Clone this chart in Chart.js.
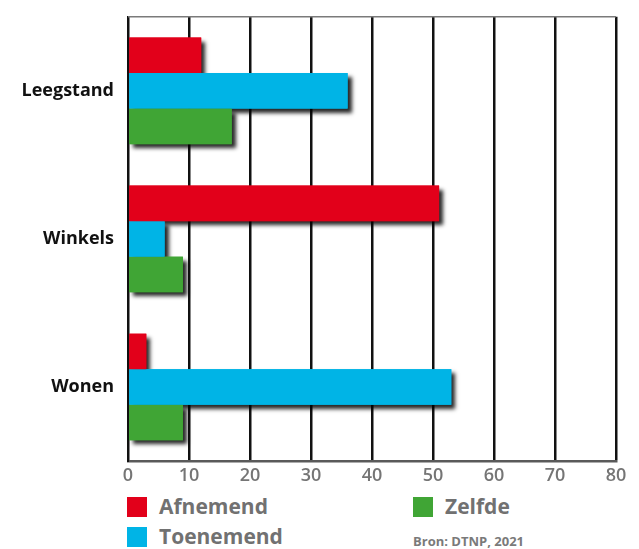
<!DOCTYPE html>
<html>
<head>
<meta charset="utf-8">
<script src="https://cdn.jsdelivr.net/npm/chart.js@4"></script>
<style>
  body { margin: 0; background: #fff; width: 639px; height: 549px; overflow: hidden; font-family: "Open Sans", sans-serif; }
  #wrap { position: absolute; left: 0; top: 0; width: 639px; height: 490px; }
  .leg { position: absolute; font-weight: 700; color: #717171; font-size: 21px; line-height: 20px; }
  .leg i { position: absolute; left: 0; top: 0; width: 20px; height: 20px; }
  .leg span { position: absolute; left: 32px; top: -1px; white-space: nowrap; }
  #bron { position: absolute; left: 413px; top: 532px; font-size: 13px; font-weight: 700; color: #7a7a7a; }
</style>
</head>
<body>
<div id="wrap"><canvas id="barChart"></canvas></div>

<div class="leg" style="left:127px; top:497px;"><i style="background:#e2001a"></i><span>Afnemend</span></div>
<div class="leg" style="left:127px; top:527px;"><i style="background:#00b4e6"></i><span>Toenemend</span></div>
<div class="leg" style="left:413px; top:497px;"><i style="background:#40a535"></i><span>Zelfde</span></div>
<div id="bron">Bron: DTNP, 2021</div>

<script>
// DATA

const categories = ["Leegstand", "Winkels", "Wonen"];
const afnemend = [12, 51, 3];
const toenemend = [36, 6, 53];
const zelfde = [17, 9, 9];
const seriesNames = ["Afnemend", "Toenemend", "Zelfde"];
const xTicks = [0, 10, 20, 30, 40, 50, 60, 70, 80];

const colors = ["#e2001a", "#00b4e6", "#40a535"];

// DROP SHADOW UNDER ALL BARS

const shadowPlugin = {
  id: "barShadow",
  beforeDatasetsDraw(chart) {
    const ctx = chart.ctx;
    ctx.save();
    ctx.shadowColor = "rgba(0,0,0,0.85)";
    ctx.shadowBlur = 4;
    ctx.shadowOffsetX = 4;
    ctx.shadowOffsetY = 4;
    chart.data.datasets.forEach((ds, i) => {
      chart.getDatasetMeta(i).data.forEach(bar => {
        const p = bar.getProps(["x", "y", "base", "height"], true);
        ctx.fillStyle = ds.backgroundColor;
        ctx.fillRect(p.base, p.y - p.height / 2, p.x - p.base, p.height);
      });
    });
    ctx.restore();
  }
};

// TOP FRAME LINE

const topLine = {
  id: "topLine",
  beforeDatasetsDraw(chart) {
    const a = chart.chartArea;
    const ctx = chart.ctx;
    ctx.save();
    ctx.strokeStyle = "#7a7a7a";
    ctx.lineWidth = 1.5;
    ctx.beginPath();
    ctx.moveTo(a.left, a.top);
    ctx.lineTo(a.right, a.top);
    ctx.stroke();
    ctx.restore();
  }
};

const barChart = new Chart(
  document.getElementById("barChart"),
  {
    type: "bar",
    data: {
      labels: categories,
      datasets: [afnemend, toenemend, zelfde].map((d, i) => ({
        label: seriesNames[i],
        data: d,
        backgroundColor: colors[i],
        borderWidth: 0,
        barPercentage: 1,
        categoryPercentage: 0.72
      }))
    },
    options: {
      indexAxis: "y",
      responsive: true,
      maintainAspectRatio: false,
      animation: false,
      layout: { padding: { top: 11, right: 23, left: 0, bottom: 0 } },
      plugins: {
        legend: { display: false },
        tooltip: { enabled: false }
      },
      scales: {
        x: {
          min: xTicks[0],
          max: xTicks[xTicks.length - 1],
          afterBuildTicks: axis => { axis.ticks = xTicks.map(v => ({ value: v })); },
          afterFit: axis => { axis.height = 29; },
          grid: { color: "#111", lineWidth: 2.5, drawTicks: false },
          border: { color: "#5a5a5a", width: 2.5 },
          ticks: {
            color: "#757575",
            padding: 4,
            font: { family: "Open Sans", size: 18, weight: "600" }
          }
        },
        y: {
          afterFit: axis => { axis.width = 128; },
          grid: { display: false },
          border: { color: "#111", width: 2 },
          ticks: {
            color: "#111",
            padding: 6,
            font: { family: "Open Sans", size: 18, weight: "700" }
          }
        }
      }
    },
    plugins: [shadowPlugin, topLine]
  }
);
</script>
</body>
</html>
